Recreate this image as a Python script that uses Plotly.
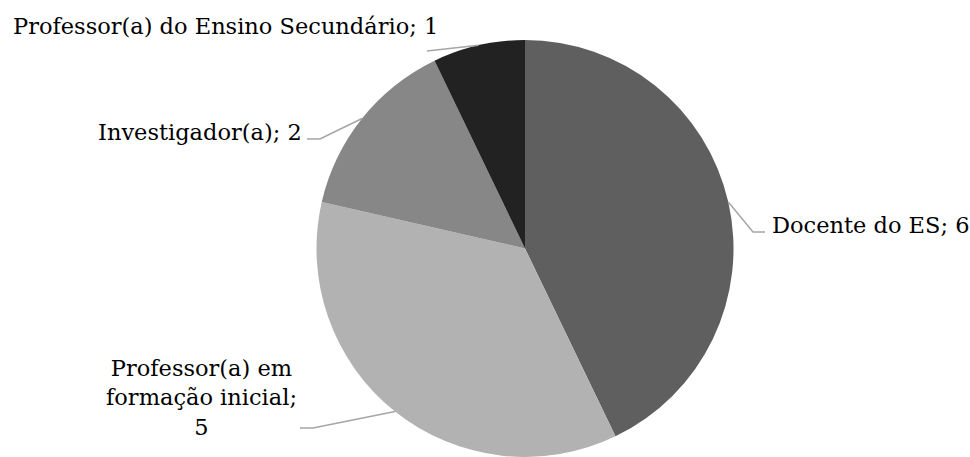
import math
import plotly.graph_objects as go

# Respondent categories and counts
categories = [
    "Docente do ES",
    "Professor(a) em formação inicial",
    "Investigador(a)",
    "Professor(a) do Ensino Secundário",
]
values = [6, 5, 2, 1]
label_texts = [
    "Docente do ES; 6",
    "Professor(a) em<br>formação inicial;<br>5",
    "Investigador(a); 2",
    "Professor(a) do Ensino Secundário; 1",
]
colors = ["#5f5f5f", "#b2b2b2", "#878787", "#222222"]

W, H = 970, 457
FONT = dict(family="DejaVu Serif", size=22.5, color="#000000")
LINE_COLOR = "#a5a5a5"

# Pie domain (paper fractions)
dom_x = [0.3263, 0.7562]
dom_y = [0.0, 0.9125]

# Pie geometry in pixels, derived from the domain
dw = (dom_x[1] - dom_x[0]) * W
dh = (dom_y[1] - dom_y[0]) * H
R = min(dw, dh) / 2
cx = (dom_x[0] + dom_x[1]) / 2 * W
cy = H - (dom_y[0] + dom_y[1]) / 2 * H


def px(x, y):
    return x / W, 1 - y / H


# Start of each leader line: slice mid-angle on the pie rim
total = sum(values)
starts = []
acc = 0
for v in values:
    mid = (acc + v / 2) / total * 2 * math.pi  # clockwise from 12 o'clock
    starts.append((cx + R * math.sin(mid), cy - R * math.cos(mid)))
    acc += v

# Elbow / end points of leader lines and label anchors (pixels)
leader_tails = [
    [(753, 232), (765, 232)],
    [(313, 428), (300, 428)],
    [(320, 139), (307, 139)],
    [(427, 51)],
]
label_pos = [
    (770, 225, "left", "left"),
    (201, 397, "center", "center"),
    (304, 131.5, "right", "left"),
    (11, 25.5, "left", "left"),
]

fig = go.Figure(
    go.Pie(
        labels=categories,
        values=values,
        sort=False,
        direction="clockwise",
        rotation=0,
        marker=dict(colors=colors, line=dict(width=0)),
        textinfo="none",
        hoverinfo="label+value",
        domain=dict(x=dom_x, y=dom_y),
        showlegend=False,
    )
)

shapes = []
for (sx, sy), tail in zip(starts, leader_tails):
    pts = [(sx, sy)] + tail
    path = "M " + " L ".join(f"{px(x, y)[0]:.5f},{px(x, y)[1]:.5f}" for x, y in pts)
    shapes.append(
        dict(type="path", xref="paper", yref="paper", path=path,
             line=dict(color=LINE_COLOR, width=1.5))
    )

annotations = []
for text, (x, y, xa, al) in zip(label_texts, label_pos):
    xp, yp = px(x, y)
    annotations.append(
        dict(text=text, x=xp, y=yp, xref="paper", yref="paper",
             xanchor=xa, yanchor="middle", align=al, showarrow=False,
             font=FONT)
    )

fig.update_layout(
    width=W,
    height=H,
    margin=dict(l=0, r=0, t=0, b=0),
    paper_bgcolor="white",
    plot_bgcolor="white",
    shapes=shapes,
    annotations=annotations,
)

fig.write_html("out.html")
